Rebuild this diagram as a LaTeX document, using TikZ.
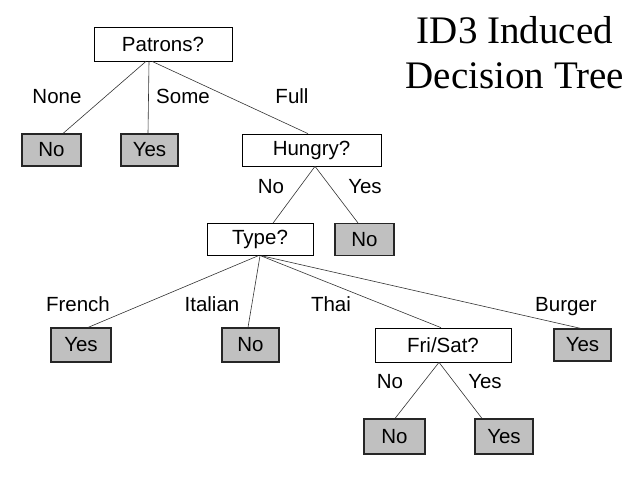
\documentclass[tikz,border=0pt]{standalone}
\usepackage{fontspec}
\setmainfont{Liberation Serif}
\newfontfamily\arialfont{Liberation Sans}
\usepackage{tikz}
\usetikzlibrary{positioning}
\definecolor{leafgray}{RGB}{192,192,192}
\tikzset{
  test/.style={draw, line width=0.7pt, minimum height=32pt, inner sep=0pt,
    font=\arialfont\fontsize{20.5}{24}\selectfont},
  leaf/.style={test, fill=leafgray, line width=1.1pt, draw=black!85},
  branch/.style={line width=0.6pt, black!80},
  arc label/.style={inner sep=0pt, anchor=base, font=\arialfont\fontsize{20.5}{24}\selectfont}
}

\begin{document}
\begin{tikzpicture}[x=1pt, y=-1pt]
            \useasboundingbox (0,0) rectangle (638,479);
            % title
            \node (title) [align=center, font=\fontsize{39}{45}\selectfont] at (515,53) {ID3 Induced\\Decision Tree};

            % tests and leaves
            \node (patrons) [test, minimum width=138pt, minimum height=34pt] at (163,44) {Patrons?};
            \node (none) [leaf, minimum width=59pt] at (51.5,150) {No};
            \node (some) [leaf, minimum width=57pt] at (149.5,150) {Yes};
            \node (hungry) [test, minimum width=139pt] at (311.5,150) {Hungry?};
            \node (type) [test, minimum width=106pt] at (260,239.5) {Type?};
            \node (full) [leaf, minimum width=59pt] at (364.5,239.5) {No};
            \node (french) [leaf, minimum width=60pt, minimum height=34pt] at (81,345) {Yes};
            \node (italian) [leaf, minimum width=57pt, minimum height=34pt] at (250.5,345) {No};
            \node (frisat) [test, minimum width=136pt, minimum height=34pt] at (443,345) {Fri/Sat?};
            \node (burger) [leaf, minimum width=57pt] at (582.5,345) {Yes};
            \node (weekday) [leaf, minimum width=61pt, minimum height=35pt] at (394.5,436.5) {No};
            \node (weekend) [leaf, minimum width=58pt, minimum height=35pt] at (504,436.5) {Yes};

            % branches
            \draw[branch] ([xshift=-17pt]patrons.south) -- ([xshift=11.5pt]none.north);
            \draw[branch] ([xshift=-14pt]patrons.south) -- ([xshift=-1.5pt]some.north);
            \draw[branch] ([xshift=-11pt]patrons.south) -- ([xshift=-3.5pt]hungry.north);
            \draw[branch] ([xshift=3.5pt]hungry.south) -- ([xshift=13pt]type.north);
            \draw[branch] ([xshift=3.5pt]hungry.south) -- ([xshift=-6.5pt]full.north);
            \draw[branch] ([xshift=-2pt]type.south) -- ([xshift=7pt]french.north);
            \draw[branch] (type.south) -- ([xshift=-2.5pt]italian.north);
            \draw[branch] ([xshift=1pt]type.south) -- ([xshift=-2pt]frisat.north);
            \draw[branch] ([xshift=2pt]type.south) -- ([xshift=-1.5pt]burger.north);
            \draw[branch] ([xshift=-4pt]frisat.south) -- ([xshift=0.5pt]weekday.north);
            \draw[branch] ([xshift=-4pt]frisat.south) -- ([xshift=-22pt]weekend.north);

            % branch labels
            \node (l1) [arc label] at (57,103) {None};
            \node (l2) [arc label] at (183,103) {Some};
            \node (l3) [arc label] at (292,103) {Full};
            \node (l4) [arc label] at (271,193) {No};
            \node (l5) [arc label] at (365,193) {Yes};
            \node (l6) [arc label] at (78,311) {French};
            \node (l7) [arc label] at (212,311) {Italian};
            \node (l8) [arc label] at (331,311) {Thai};
            \node (l9) [arc label] at (566,311) {Burger};
            \node (l10) [arc label] at (390,388) {No};
            \node (l11) [arc label] at (485,388) {Yes};
\end{tikzpicture}
\end{document}
